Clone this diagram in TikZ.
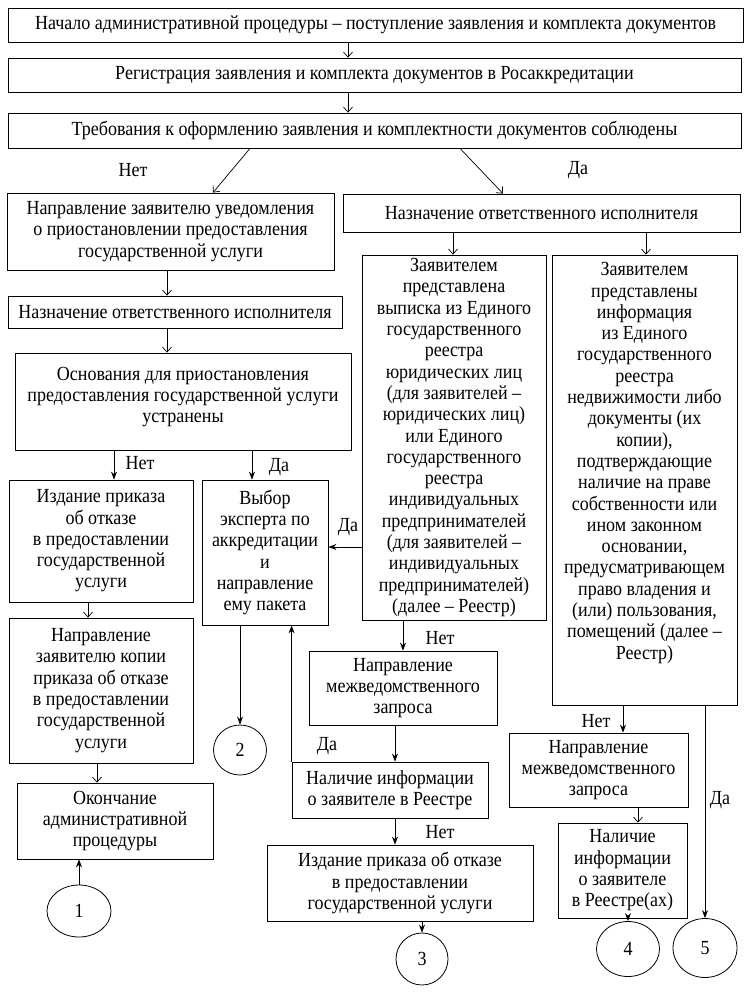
\documentclass[tikz,border=0pt]{standalone}
\usepackage{fontspec}
\setmainfont[FakeStretch=0.9]{Liberation Serif}
\usetikzlibrary{arrows.meta,shapes.geometric}
\newcommand\fs{\fontsize{20}{21.3}\selectfont}
\begin{document}
\begin{tikzpicture}[x=1pt,y=-1pt,
 box/.style={draw,line width=0.8pt,inner sep=2pt,align=center,font=\fs},
 circ/.style={draw,ellipse,line width=0.8pt,inner sep=0pt,font=\fs},
 arr/.style={-{Stealth[length=8pt,width=6pt]},line width=0.8pt},
 oarr/.style={-{Straight Barb[length=5pt,width=9pt]},line width=0.7pt},
 lbl/.style={font=\fs,inner sep=0pt}]
\useasboundingbox (0,0) rectangle (750,993);

\node[box,minimum width=735pt,minimum height=34pt] (b1) at (375.5,25) {Начало административной процедуры – поступление заявления и комплекта документов};
\node[box,minimum width=733pt,minimum height=34pt] (b2) at (374.5,75) {Регистрация заявления и комплекта документов в Росаккредитации};
\node[box,minimum width=733pt,minimum height=35pt] (b3) at (374.5,130.5) {Требования к оформлению заявления и комплектности документов соблюдены};

\node[box,minimum width=327pt,minimum height=77pt] (b4) at (170.5,231.5) {Направление заявителю уведомления\\о приостановлении предоставления\\государственной услуги};
\node[box,minimum width=397pt,minimum height=38pt] (b5) at (541.5,213) {Назначение ответственного исполнителя};
\node[box,minimum width=334pt,minimum height=32pt] (b6) at (175,312) {Назначение ответственного исполнителя};
\node[box,minimum width=336pt,minimum height=97pt] (b7) at (183,401.5) {Основания для приостановления\\предоставления государственной услуги\\устранены\\[-8pt]\mbox{}};
\node[box,minimum width=184pt,minimum height=122pt] (b8) at (101,541) {Издание приказа\\об отказе\\в предоставлении\\государственной\\услуги};
\node[box,minimum width=126pt,minimum height=145pt] (b9) at (265,552.5) {Выбор\\эксперта по\\аккредитации\\и\\направление\\ему пакета};
\node[box,minimum width=184pt,minimum height=365pt] (b10) at (454,437.5) {Заявителем\\представлена\\выписка из Единого\\государственного\\реестра\\юридических лиц\\(для заявителей –\\юридических лиц)\\или Единого\\государственного\\реестра\\индивидуальных\\предпринимателей\\(для заявителей –\\индивидуальных\\предпринимателей)\\(далее – Реестр)};
\node[box,minimum width=185pt,minimum height=450pt] (b11) at (644.5,480) {Заявителем\\представлены\\информация\\из Единого\\государственного\\реестра\\недвижимости либо\\документы (их\\копии),\\подтверждающие\\наличие на праве\\собственности или\\ином законном\\основании,\\предусматривающем\\право владения и\\(или) пользования,\\помещений (далее –\\Реестр)\\[17pt]\mbox{}};
\node[box,minimum width=184pt,minimum height=145pt] (b12) at (101,690.5) {Направление\\заявителю копии\\приказа об отказе\\в предоставлении\\государственной\\услуги};
\node[box,minimum width=196pt,minimum height=76pt] (b13) at (115,821) {Окончание\\административной\\процедуры};
\node[box,minimum width=188pt,minimum height=74pt] (b14) at (403,688) {Направление\\межведомственного\\запроса};
\node[box,minimum width=196pt,minimum height=56pt] (b15) at (390,790) {Наличие информации\\о заявителе в Реестре};
\node[box,minimum width=266pt,minimum height=76pt] (b16) at (400,883) {Издание приказа об отказе\\в предоставлении\\государственной услуги};
\node[box,minimum width=179pt,minimum height=74pt] (b17) at (598.5,770) {Направление\\межведомственного\\запроса};
\node[box,minimum width=129pt,minimum height=95pt] (b18) at (622.5,870.5) {Наличие\\информации\\о заявителе\\в Реестре(ах)};

\node[circ,minimum width=64pt,minimum height=52pt] (c1) at (79,911) {1};
\node[circ,minimum width=53pt,minimum height=50pt] (c2) at (240,750) {2};
\node[circ,minimum width=52pt,minimum height=52pt] (c3) at (422,959) {3};
\node[circ,minimum width=63pt,minimum height=55pt] (c4) at (628,949) {4};
\node[circ,minimum width=64pt,minimum height=59pt] (c5) at (705,948) {5};

\draw[oarr] (348,0 |- b1.south) -- (348,0 |- b2.north);
\draw[oarr] (348,0 |- b2.south) -- (348,0 |- b3.north);
\draw[oarr] (250,0 |- b3.south) -- (213,0 |- b4.north);
\draw[oarr] (460,0 |- b3.south) -- (503,0 |- b5.north);
\node[lbl] (lnet1) at (133,170) {Нет};
\node[lbl] (lda1) at (578,170) {Да};

\draw[oarr] (167,0 |- b4.south) -- (167,0 |- b6.north);
\draw[oarr] (167,0 |- b6.south) -- (167,0 |- b7.north);
\draw[oarr] (453,0 |- b5.south) -- (453,0 |- b10.north);
\draw[oarr] (646,0 |- b5.south) -- (646,0 |- b11.north);

\draw[arr] (114,0 |- b7.south) -- (114,0 |- b8.north);
\node[lbl] (lnet2) at (140,463) {Нет};
\draw[arr] (252,0 |- b7.south) -- (252,0 |- b9.north);
\node[lbl] (lda2) at (279,467) {Да};

\draw[oarr] (88,0 |- b8.south) -- (88,0 |- b12.north);
\draw[oarr] (97,0 |- b12.south) -- (97,0 |- b13.north);
\draw[arr] (c1.north) -- (c1.north |- b13.south);

\draw[arr] (c2.north |- b9.south) -- (c2.north);
\draw[arr] (b10.west |- 0,547) -- (b9.east |- 0,547);
\node[lbl] (lda3) at (348,527) {Да};

\draw[arr] (403,0 |- b10.south) -- (403,0 |- b14.north);
\node[lbl] (lnet3) at (440,638) {Нет};
\draw[arr] (395,0 |- b14.south) -- (395,0 |- b15.north);
\draw[arr] (b15.north west) -- (b15.north west |- b9.south);
\node[lbl] (lda4) at (327,746) {Да};
\draw[arr] (395,0 |- b15.south) -- (395,0 |- b16.north);
\node[lbl] (lnet4) at (440,832) {Нет};
\draw[arr] (c3.north |- b16.south) -- (c3.north);

\draw[arr] (623,0 |- b11.south) -- (623,0 |- b17.north);
\node[lbl] (lnet5) at (596,721) {Нет};
\draw[oarr] (638,0 |- b17.south) -- (638,0 |- b18.north);
\draw[arr] (c4.north |- b18.south) -- (c4.north);
\draw[arr] (c5.north |- b11.south) -- (c5.north);
\node[lbl] (lda5) at (720,800) {Да};
\end{tikzpicture}
\end{document}
